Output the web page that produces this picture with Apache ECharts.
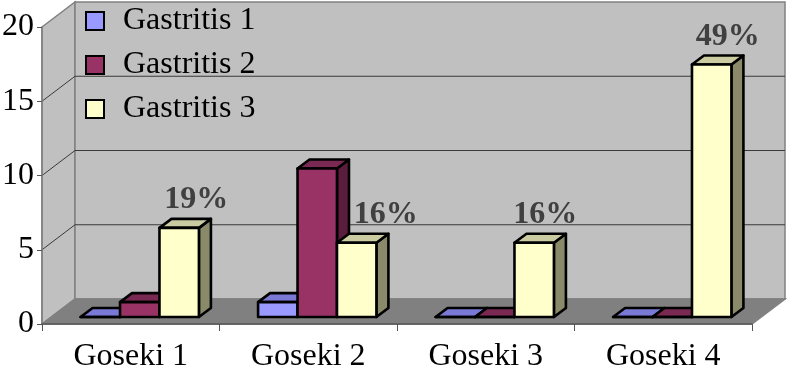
<!DOCTYPE html>
<html>
<head>
<meta charset="utf-8">
<script src="https://cdn.jsdelivr.net/npm/echarts@6/dist/echarts.min.js"></script>
<style>
  html, body { margin: 0; padding: 0; background: #fff; }
  #chart { width: 787px; height: 370px; }
</style>
</head>
<body>
<div id="chart"></div>
<script>
// data
const categories = ['Goseki 1', 'Goseki 2', 'Goseki 3', 'Goseki 4'];
const seriesNames = ['Gastritis 1', 'Gastritis 2', 'Gastritis 3'];
const gastritis1 = [0, 1, 0, 0];
const gastritis2 = [1, 10, 0, 0];
const gastritis3 = [6, 5, 5, 17];
const pctLabels = ['19%', '16%', '16%', '49%'];
const yTicks = [0, 5, 10, 15, 20];

// excel-ish 3d look
const FONT = "'Liberation Serif', 'DejaVu Serif', serif";
const WALL_D = [33, -25];   // depth of the box
const BAR_F = [9, -7];      // bar front face offset from front plane
const BAR_S = [12, -9];     // bar side depth
const LABEL_NUDGE = [17, 29, 11, 16];  // labels were hand-placed in the original

// face colours: front, side, top
const COLORS = [
  ['#9999ff', '#5c5cb8', '#7a7ad6'],
  ['#993366', '#5a1d3c', '#7a2952'],
  ['#ffffcc', '#8a8a6a', '#cccca3']
];

const chart = echarts.init(document.getElementById('chart'));

function renderWalls(params, api) {
  const cs = params.coordSys;
  const x0 = cs.x, x1 = cs.x + cs.width;
  const yb = cs.y + cs.height, yt = cs.y;
  const dx = WALL_D[0], dy = WALL_D[1];
  const children = [];
  // left wall
  children.push({
    type: 'polygon',
    shape: { points: [[x0, yt], [x0 + dx, yt + dy], [x0 + dx, yb + dy], [x0, yb]] },
    style: { fill: '#c0c0c0', stroke: '#808080', lineWidth: 1.5 }
  });
  // back wall
  children.push({
    type: 'rect',
    shape: { x: x0 + dx, y: yt + dy, width: x1 - x0, height: yb - yt },
    style: { fill: '#c0c0c0', stroke: '#808080', lineWidth: 1.5 }
  });
  // floor
  children.push({
    type: 'polygon',
    shape: { points: [[x0, yb], [x1, yb], [x1 + dx, yb + dy], [x0 + dx, yb + dy]] },
    style: { fill: '#808080', stroke: '#808080', lineWidth: 1.5 }
  });
  // gridlines on the walls
  yTicks.forEach(function (t) {
    if (t === yTicks[0] || t === yTicks[yTicks.length - 1]) return;
    const y = api.coord([0, t])[1];
    children.push({
      type: 'polyline',
      shape: { points: [[x0, y], [x0 + dx, y + dy], [x1 + dx, y + dy]] },
      style: { stroke: '#3a3a3a', lineWidth: 1, fill: null }
    });
  });
  return { type: 'group', children: children };
}

function makeBarRenderer(sIdx) {
  return function (params, api) {
    const cat = api.value(0);
    const val = api.value(1);
    const base = api.coord([cat, 0]);
    const top = api.coord([cat, val]);
    const catW = api.size([1, 0])[0];
    const barW = catW / 4.5;
    const xL = base[0] - 1.5 * barW + sIdx * barW + BAR_F[0];
    const xR = xL + barW;
    const yB = base[1] + BAR_F[1];
    const yT = top[1] + BAR_F[1];
    const sx = BAR_S[0], sy = BAR_S[1];
    const c = COLORS[sIdx];
    const line = { stroke: '#000', lineWidth: 2.6, lineJoin: 'round' };
    const children = [
      {
        type: 'polygon',
        shape: { points: [[xR, yT], [xR + sx, yT + sy], [xR + sx, yB + sy], [xR, yB]] },
        style: Object.assign({ fill: c[1] }, line)
      },
      {
        type: 'polygon',
        shape: { points: [[xL, yT], [xL + sx, yT + sy], [xR + sx, yT + sy], [xR, yT]] },
        style: Object.assign({ fill: c[2] }, line)
      },
      {
        type: 'polygon',
        shape: { points: [[xL, yT], [xR, yT], [xR, yB], [xL, yB]] },
        style: Object.assign({ fill: c[0] }, line)
      }
    ];
    if (sIdx === 2) {
      children.push({
        type: 'text',
        style: {
          text: pctLabels[cat],
          x: (xL + xR) / 2 + LABEL_NUDGE[cat],
          y: yT - 12,
          align: 'center',
          verticalAlign: 'bottom',
          font: 'bold 32px ' + FONT,
          fill: '#404040'
        }
      });
    }
    return { type: 'group', children: children };
  };
}

const seriesData = [gastritis1, gastritis2, gastritis3];

const barSeries = seriesNames.map(function (name, i) {
  return {
    name: name,
    type: 'custom',
    z: 3,
    itemStyle: { color: COLORS[i][0], borderColor: '#000', borderWidth: 2 },
    renderItem: makeBarRenderer(i),
    encode: { x: 0, y: 1 },
    data: seriesData[i].map(function (v, j) { return [j, v]; })
  };
});

const option = {
  animation: false,
  backgroundColor: '#fff',
  grid: { left: 42, right: 35, top: 27, bottom: 46, outerBoundsMode: 'none', containLabel: false },
  legend: {
    orient: 'vertical',
    left: 85,
    top: 5,
    padding: 0,
    icon: 'rect',
    itemWidth: 18,
    itemHeight: 18,
    itemGap: 12,
    data: seriesNames,
    itemStyle: { borderColor: '#000', borderWidth: 2 },
    textStyle: { fontFamily: FONT, fontSize: 32, color: '#000', lineHeight: 30, padding: [0, 0, 0, 14] }
  },
  xAxis: {
    type: 'category',
    data: categories,
    z: 5,
    axisLine: { lineStyle: { color: '#555', width: 1.5 } },
    axisTick: { show: true, length: 7, lineStyle: { color: '#555' } },
    axisLabel: { fontFamily: FONT, fontSize: 32, color: '#000', margin: 17 },
    splitLine: { show: false }
  },
  yAxis: {
    type: 'value',
    min: 0,
    max: 20,
    interval: 5,
    z: 5,
    axisLine: { show: true, lineStyle: { color: '#808080', width: 1.5 } },
    axisTick: { show: true, length: 5, lineStyle: { color: '#555' } },
    axisLabel: { fontFamily: FONT, fontSize: 32, color: '#000', margin: 8 },
    splitLine: { show: false }
  },
  series: [
    {
      type: 'custom',
      z: 1,
      silent: true,
      renderItem: renderWalls,
      data: [[0, 0]]
    }
  ].concat(barSeries)
};

chart.setOption(option);
</script>
</body>
</html>
